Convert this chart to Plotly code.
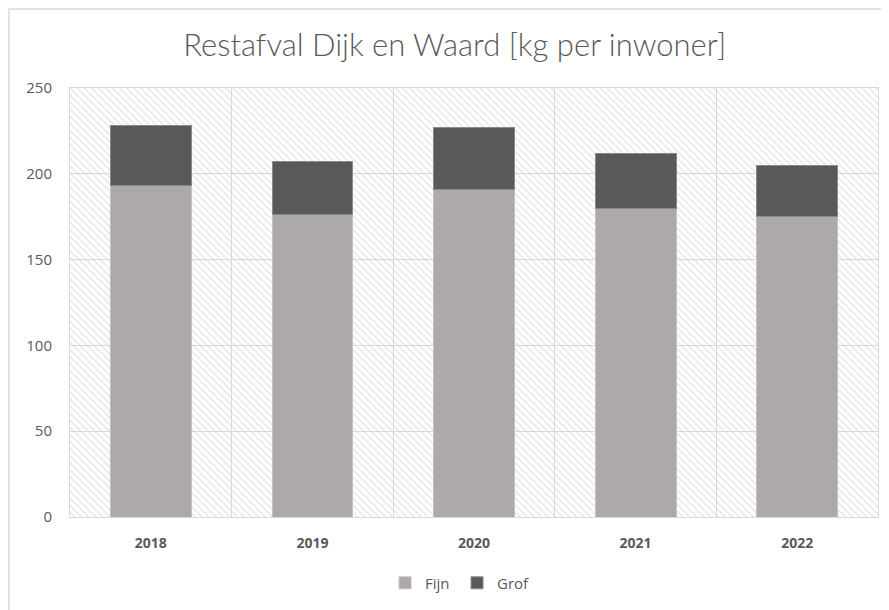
import plotly.graph_objects as go

# Restafval per inwoner (kg)
years = ["2018", "2019", "2020", "2021", "2022"]
fijn = [193, 176, 191, 180, 175]
grof = [35, 31, 36, 32, 30]

Y_MAX = 250
GRID = "#d9d9d9"
TEXT = "#595959"

fig = go.Figure()

# hatched plot background, drawn as a patterned bar under the data
fig.add_trace(go.Bar(
    x=[0.5], y=[Y_MAX], width=[1],
    xaxis="x", yaxis="y",
    marker=dict(
        color="rgba(0,0,0,0)",
        line=dict(width=0),
        pattern=dict(shape="\\", fgcolor="#d6d6d6", bgcolor="rgba(0,0,0,0)",
                     size=5, solidity=0.4, fillmode="overlay"),
    ),
    showlegend=False, hoverinfo="skip",
))

fig.add_trace(go.Bar(
    x=years, y=fijn, name="Fijn", xaxis="x2", yaxis="y",
    marker=dict(color="#ada9a8", line=dict(color="#c4c1c0", width=1)),
))
fig.add_trace(go.Bar(
    x=years, y=grof, name="Grof", xaxis="x2", yaxis="y",
    marker=dict(color="#595959", line=dict(color="#8a8a8a", width=1)),
))

# page adds an 8px body margin, so the figure is 8px smaller than the window
fig.update_layout(
    width=881, height=602,
    barmode="stack", bargap=0.5,
    paper_bgcolor="white", plot_bgcolor="white",
    margin=dict(l=62, r=11, t=80, b=93),
    font=dict(family="Open Sans, Liberation Sans, sans-serif", color=TEXT, size=13),
    title=dict(text="Restafval Dijk en Waard [kg per inwoner]",
               x=0.507, xanchor="center", y=0.9385, yanchor="middle",
               font=dict(size=31, color=TEXT, family="Lato, Open Sans, sans-serif", weight=300)),
    xaxis=dict(range=[0, 1], visible=False, fixedrange=True),
    xaxis2=dict(overlaying="x", side="bottom", anchor="y", type="category",
                tickson="boundaries", showgrid=True, gridcolor=GRID, gridwidth=1,
                showline=True, linecolor=GRID, mirror=True, ticks="",
                ticklabelstandoff=13,
                tickfont=dict(size=14, color=TEXT, family="Open Sans, sans-serif", weight="bold")),
    yaxis=dict(range=[0, Y_MAX], dtick=50, showgrid=True, gridcolor=GRID, gridwidth=1,
               zeroline=False, ticks="", ticklabelstandoff=14,
               showline=True, linecolor=GRID, mirror=True,
               tickfont=dict(size=15, color=TEXT)),
    legend=dict(orientation="h", x=0.479, xanchor="center", y=-0.154, yanchor="middle",
                traceorder="normal", itemwidth=30, tracegroupgap=0,
                entrywidth=27, entrywidthmode="pixels",
                font=dict(size=15, color=TEXT)),
)

fig.add_shape(type="rect", xref="paper", yref="paper",
              x0=-0.0755, x1=1.1, y0=-0.4, y1=1.184,
              line=dict(color="#d9d9d9", width=1.5), layer="below")

fig.write_html("out.html")
